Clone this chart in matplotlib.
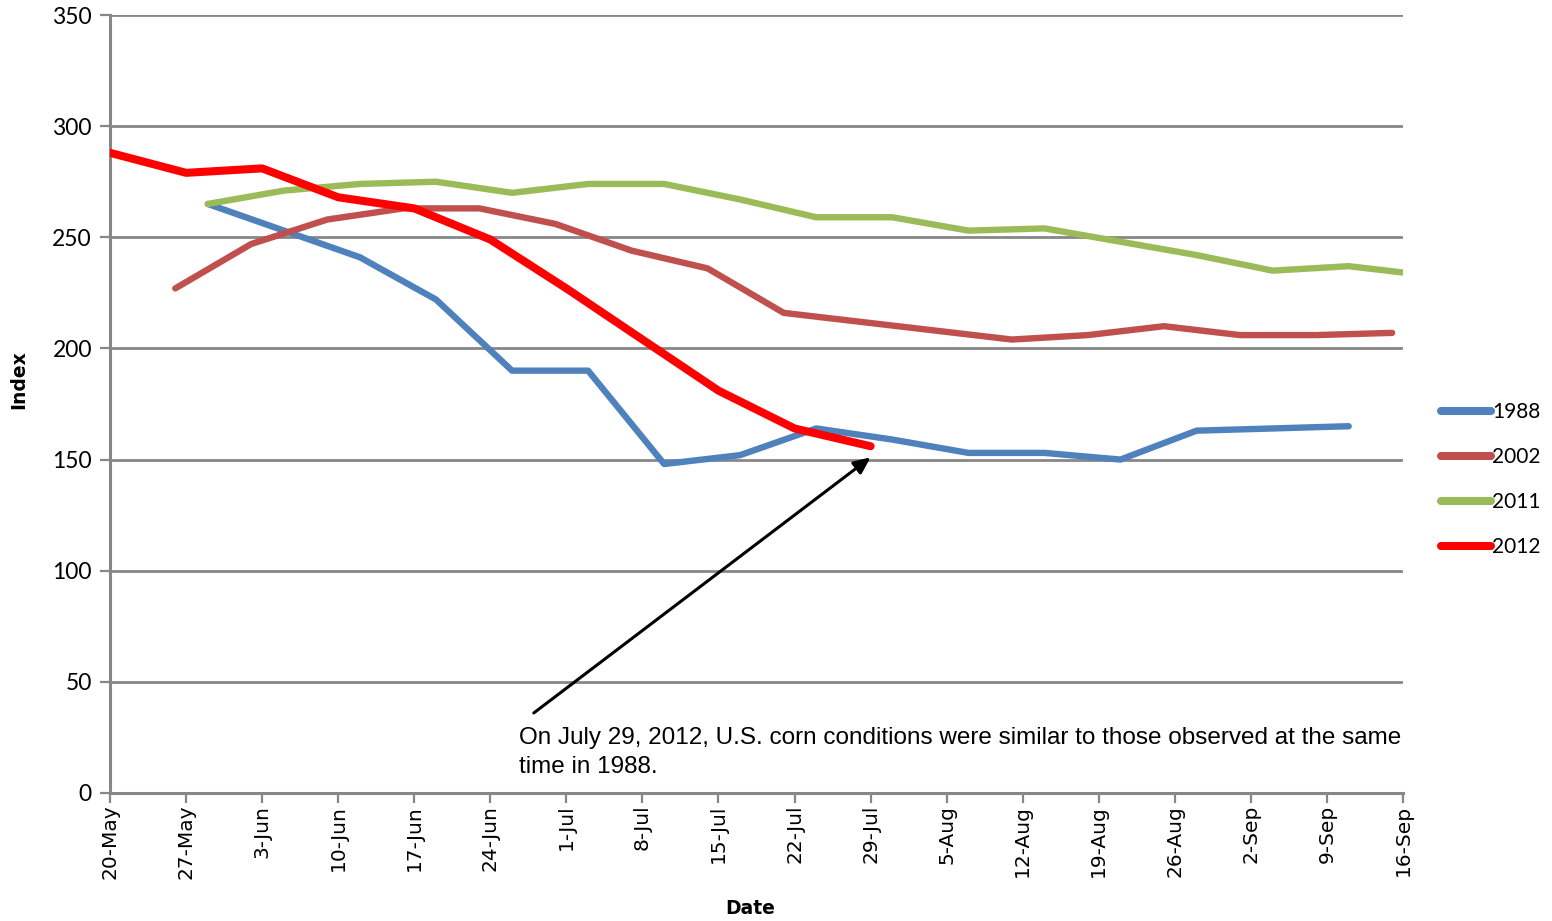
import datetime as dt
import matplotlib
matplotlib.use("Agg")
import matplotlib.pyplot as plt
import matplotlib.dates as mdates

# Weekly crop condition index; each season mapped onto the 2012 calendar
start_1988 = dt.date(2012, 5, 29)
vals_1988 = [265, 253, 241, 222, 190, 190, 148, 152, 164, 159, 153, 153, 150, 163, 164, 165]

start_2002 = dt.date(2012, 5, 26)
vals_2002 = [227, 247, 258, 263, 263, 256, 244, 236, 216, 212, 208, 204, 206, 210, 206, 206, 207]

start_2011 = dt.date(2012, 5, 29)
vals_2011 = [265, 271, 274, 275, 270, 274, 274, 267, 259, 259, 253, 254, 248, 242, 235, 237, 233]

start_2012 = dt.date(2012, 5, 20)
vals_2012 = [288, 279, 281, 268, 263, 249, 227, 204, 181, 164, 156]

series = [
    ("1988", start_1988, vals_1988, "#4F81BD", 4.6),
    ("2002", start_2002, vals_2002, "#C0504D", 4.6),
    ("2011", start_2011, vals_2011, "#9BBB59", 4.6),
    ("2012", start_2012, vals_2012, "#FF0000", 5.8),
]

tick_dates = [dt.date(2012, 5, 20) + dt.timedelta(days=7 * i) for i in range(18)]
note = ("On July 29, 2012, U.S. corn conditions were similar to those observed at the same\n"
        "time in 1988.")

fig = plt.figure(figsize=(15.52, 9.21), dpi=100)
ax = fig.add_axes([0.0709, 0.139, 0.8331, 0.8447])

for label, start, vals, color, lw in series:
    dates = [start + dt.timedelta(days=7 * i) for i in range(len(vals))]
    ax.plot(dates, vals, color=color, lw=lw, label=label,
            solid_capstyle="round", solid_joinstyle="round", zorder=3)

ax.set_xlim(tick_dates[0], tick_dates[-1])
ax.set_ylim(0, 350)
ax.set_yticks(range(0, 351, 50))
ax.set_xticks(tick_dates)
ax.xaxis.set_major_formatter(mdates.DateFormatter("%-d-%b"))

grid_c = "#878787"
ax.grid(axis="y", color=grid_c, lw=2, zorder=1)
for s in ("top", "right"):
    ax.spines[s].set_visible(False)
for s in ("left", "bottom"):
    ax.spines[s].set_color(grid_c)
    ax.spines[s].set_linewidth(2.2)
ax.tick_params(axis="both", color=grid_c, width=1.6, length=7, direction="out")
ax.tick_params(axis="y", labelsize=16.5, pad=6)
ax.tick_params(axis="x", labelsize=14.5, rotation=90, pad=1.5)
for t in ax.get_yticklabels():
    t.set_fontfamily("Lato")
for t in ax.get_xticklabels():
    t.set_fontfamily("DejaVu Sans")

ax.set_ylabel("Index", fontsize=13.5, fontweight="bold", fontfamily="DejaVu Sans")
ax.yaxis.set_label_coords(-0.063, 0.531)
ax.set_xlabel("Date", fontsize=13.5, fontweight="bold", fontfamily="DejaVu Sans")
ax.xaxis.set_label_coords(0.495, -0.1365)

ax.annotate("", xy=(dt.date(2012, 7, 29), 151), xytext=(dt.date(2012, 6, 28), 36),
            arrowprops=dict(arrowstyle="-|>,head_length=1.0,head_width=0.45",
                            color="black", lw=2.2, shrinkA=0, shrinkB=0), zorder=4)
ax.text(dt.datetime(2012, 6, 26, 15), 29.5, note, fontsize=17.5,
        fontfamily="Liberation Sans", va="top", ha="left", linespacing=1.38, zorder=4)

leg = fig.legend(loc="upper left", bbox_to_anchor=(0.9165, 0.584), frameon=False,
                 handlelength=2.4, handletextpad=0.05, labelspacing=1.2,
                 prop={"family": "Lato", "size": 15})
for h in leg.get_lines():
    h.set_linewidth(5.8)
    h.set_solid_capstyle("round")

fig.savefig("out.png", dpi=100, facecolor="white")
